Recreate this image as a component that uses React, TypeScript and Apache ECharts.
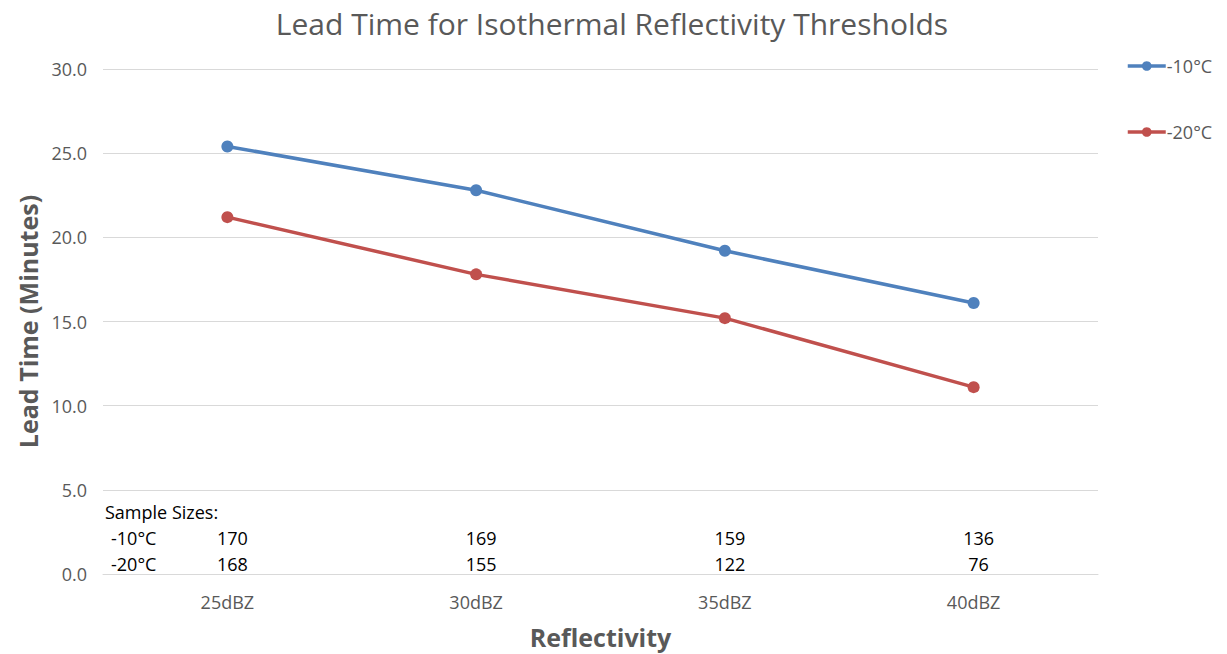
import React, { useEffect, useRef } from "react";
import * as echarts from "echarts";

const categories = ["25dBZ", "30dBZ", "35dBZ", "40dBZ"];
const seriesNames = ["-10°C", "-20°C"];
const minus10 = [25.4, 22.8, 19.2, 16.1];
const minus20 = [21.2, 17.8, 15.2, 11.1];
const sampleMinus10 = [170, 169, 159, 136];
const sampleMinus20 = [168, 155, 122, 76];

const FONT = "'Open Sans', 'Liberation Sans', sans-serif";
const GREY = "#595959";

export default function App() {
  const ref = useRef<HTMLDivElement>(null);
  useEffect(() => {
    if (!ref.current) return;
    const chart = echarts.init(ref.current, undefined, { renderer: "svg" });
    chart.setOption({
      animation: false,
      backgroundColor: "#fff",
      title: {
        text: "Lead Time for Isothermal Reflectivity Thresholds",
        left: 607,
        textAlign: "center",
        top: 3,
        textStyle: { fontFamily: FONT, fontSize: 30, fontWeight: "normal", color: GREY },
      },
      legend: {
        orient: "vertical",
        left: 1121,
        top: 52,
        itemWidth: 38,
        itemHeight: 12,
        itemGap: 48,
        lineStyle: { width: 3.5 },
        textStyle: { fontFamily: FONT, fontSize: 18, color: GREY, padding: [0, 0, 0, -4] },
        data: seriesNames,
      },
      grid: { left: 103, right: 129, top: 69, bottom: 79 },
      xAxis: {
        type: "category",
        data: categories,
        boundaryGap: true,
        axisLine: { lineStyle: { color: "#d9d9d9" } },
        axisTick: { show: false },
        axisLabel: { fontFamily: FONT, fontSize: 18, color: GREY, margin: 19 },
        name: "Reflectivity",
        nameLocation: "middle",
        nameGap: 50,
        nameTextStyle: { fontFamily: FONT, fontSize: 25, fontWeight: "bold", color: GREY },
      },
      yAxis: {
        type: "value",
        min: 0,
        max: 30,
        interval: 5,
        axisLine: { show: false },
        axisTick: { show: false },
        splitLine: { lineStyle: { color: "#d9d9d9", width: 1 } },
        axisLabel: {
          fontFamily: FONT,
          fontSize: 18,
          color: GREY,
          margin: 16,
          formatter: (v: number) => v.toFixed(1),
        },
        name: "Lead Time (Minutes)",
        nameLocation: "middle",
        nameGap: 58,
        nameTextStyle: { fontFamily: FONT, fontSize: 25, fontWeight: "bold", color: GREY },
      },
      series: [
        {
          name: seriesNames[0],
          type: "line",
          data: minus10,
          symbol: "circle",
          symbolSize: 12,
          lineStyle: { width: 3.5, color: "#4f81bd" },
          itemStyle: { color: "#4f81bd" },
        },
        {
          name: seriesNames[1],
          type: "line",
          data: minus20,
          symbol: "circle",
          symbolSize: 12,
          lineStyle: { width: 3.5, color: "#c0504d" },
          itemStyle: { color: "#c0504d" },
        },
      ],
    });

    const textStyle = { fontFamily: FONT, fontSize: 18, fill: "#000" };
    const elements: any[] = [
      { type: "text", x: 105, y: 512, style: { ...textStyle, text: "Sample Sizes:", verticalAlign: "middle" } },
      { type: "text", x: 111, y: 538, style: { ...textStyle, text: seriesNames[0], verticalAlign: "middle" } },
      { type: "text", x: 111, y: 564, style: { ...textStyle, text: seriesNames[1], verticalAlign: "middle" } },
    ];
    categories.forEach((c, i) => {
      const x = chart.convertToPixel({ xAxisIndex: 0 }, c) as number;
      elements.push({
        type: "text",
        x: x + 5,
        y: 538,
        style: { ...textStyle, text: String(sampleMinus10[i]), align: "center", verticalAlign: "middle" },
      });
      elements.push({
        type: "text",
        x: x + 5,
        y: 564,
        style: { ...textStyle, text: String(sampleMinus20[i]), align: "center", verticalAlign: "middle" },
      });
    });
    chart.setOption({ graphic: { elements } });

    return () => chart.dispose();
  }, []);
  return (
    <div
      ref={ref}
      style={{ position: "fixed", left: 0, top: 0, width: 1227, height: 654 }}
    />
  );
}
